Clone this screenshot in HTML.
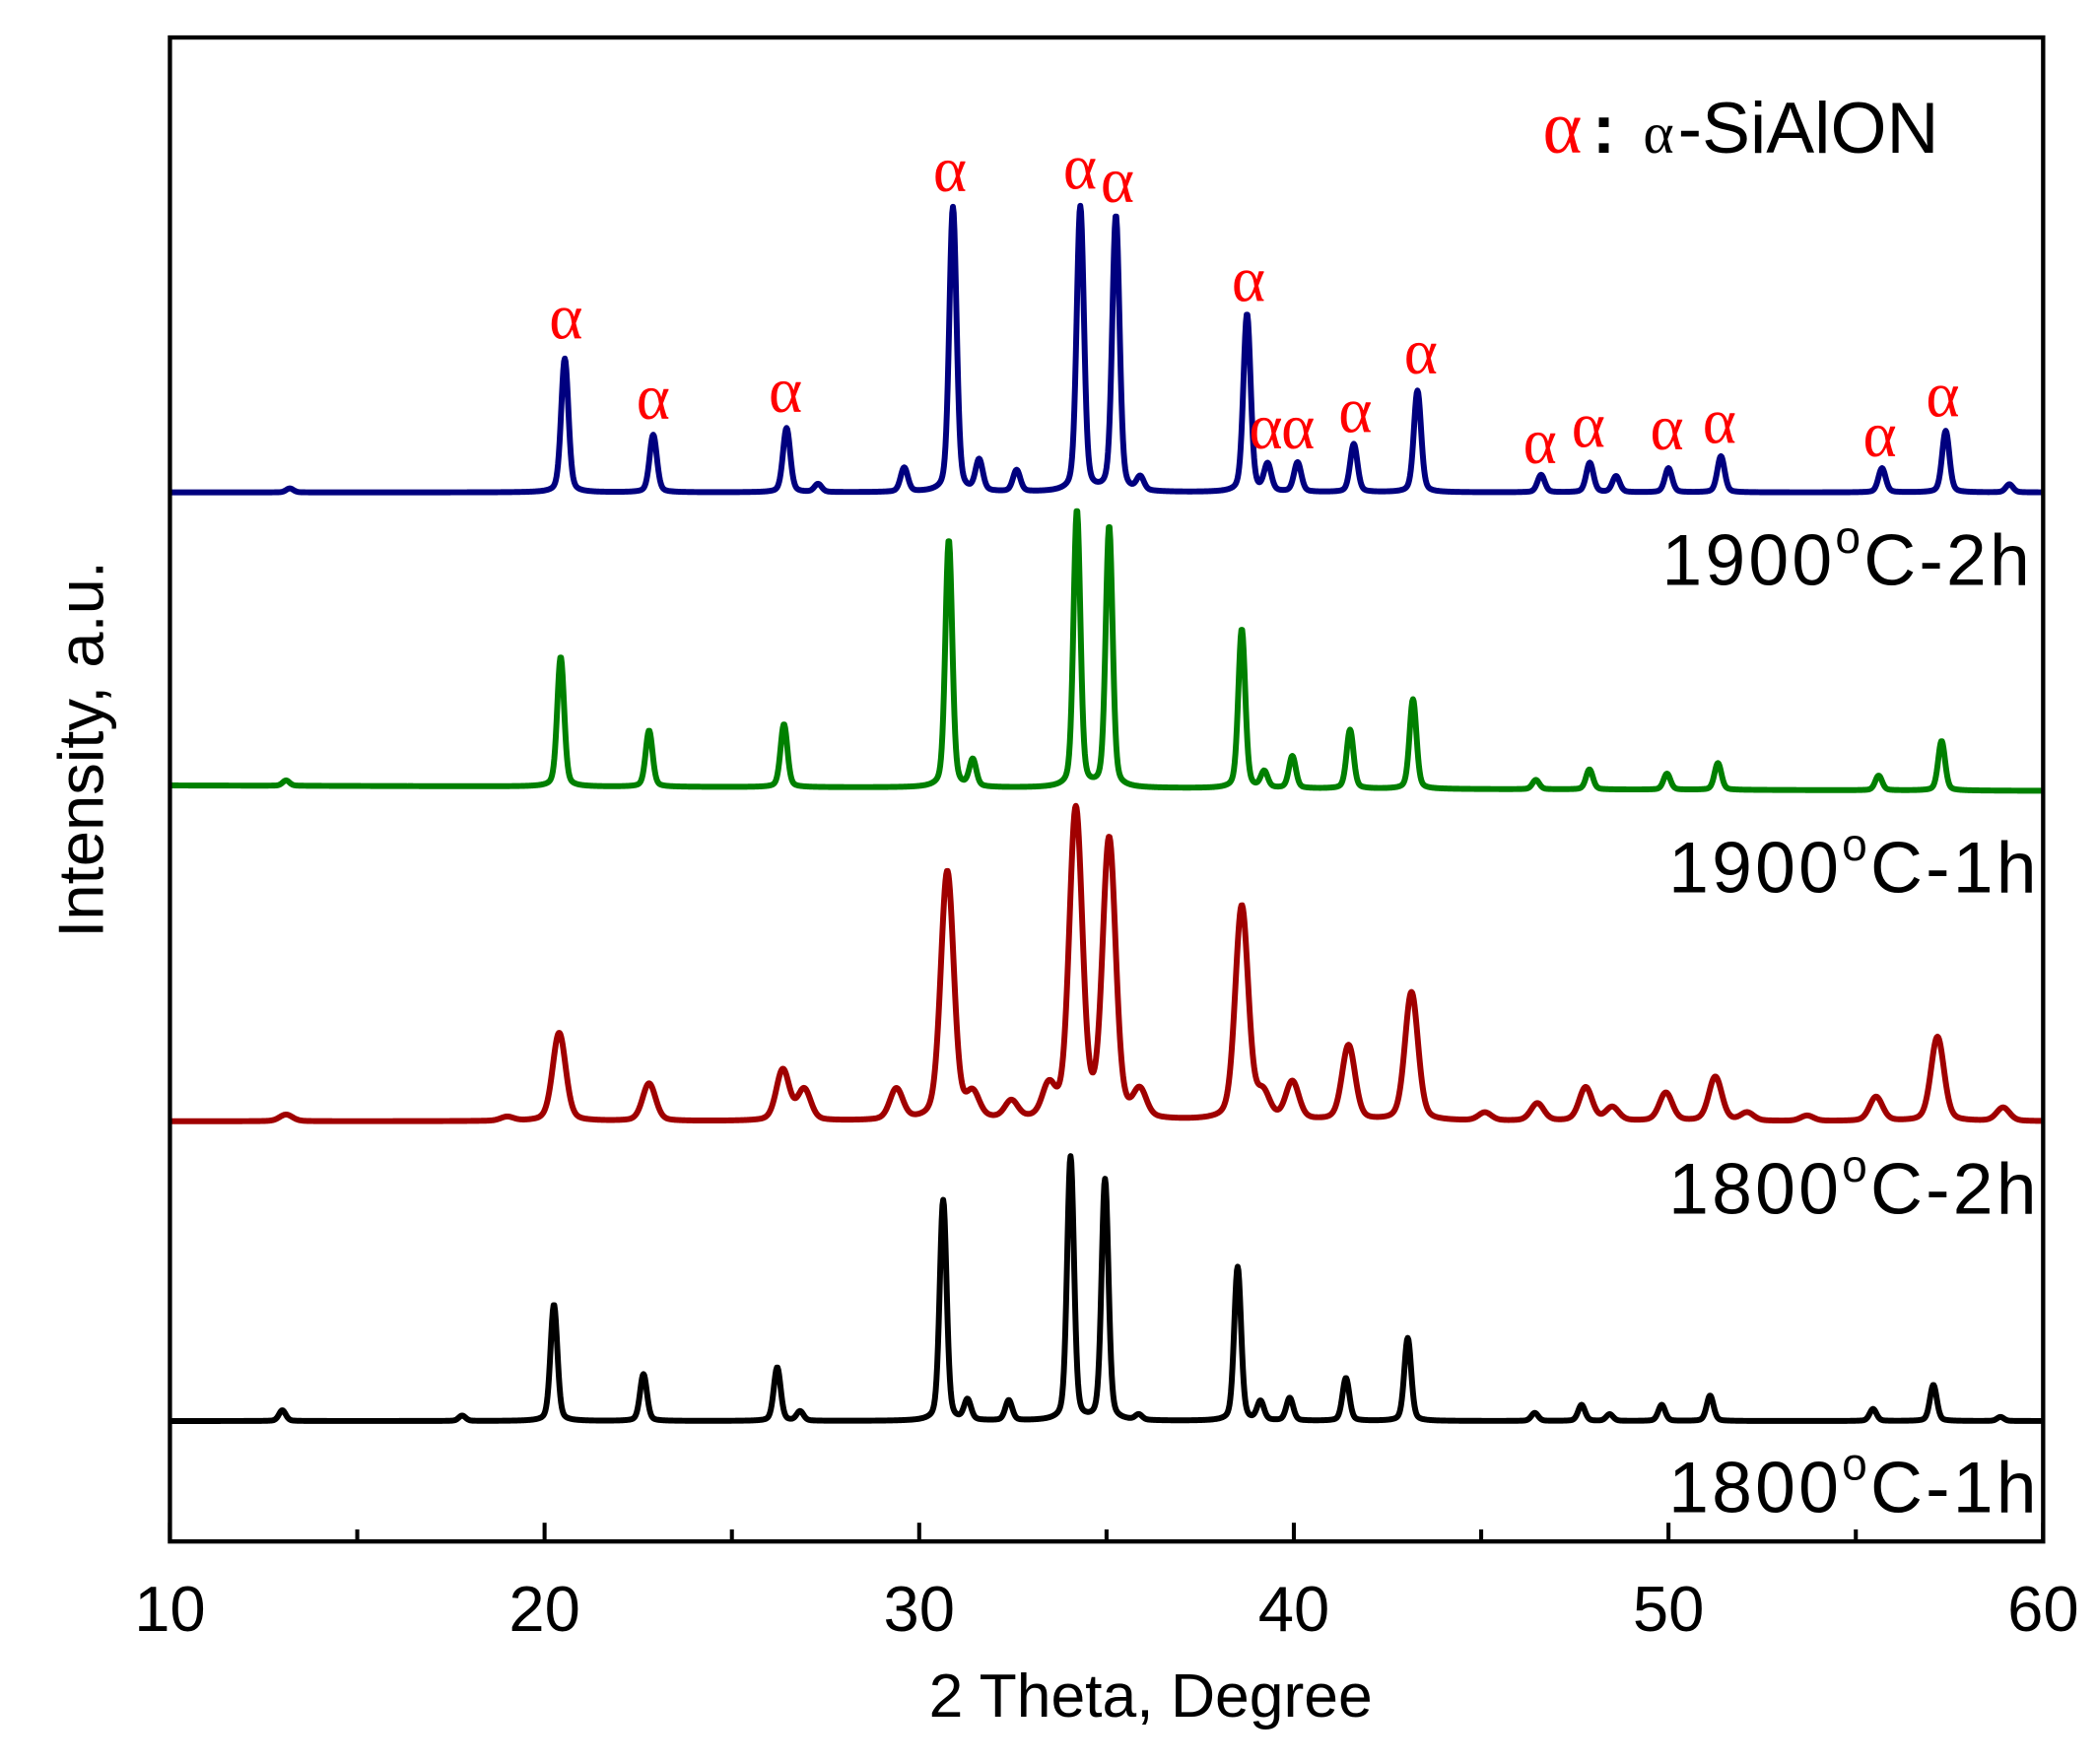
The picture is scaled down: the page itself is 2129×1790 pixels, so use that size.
<!DOCTYPE html>
<html><head><meta charset="utf-8"><style>html,body{margin:0;padding:0;background:#fff}svg{display:block}</style></head>
<body>
<svg id="chart" xmlns="http://www.w3.org/2000/svg" width="2129" height="1790" viewBox="0 0 1568 1318.3">
<rect x="0" y="0" width="1568" height="1318.3" fill="#fff"/>
<g id="series"></g>
<g id="axes"></g>
<g id="labels"></g>
<g>
<text x="1153" y="114" font-family="Liberation Serif, serif" font-size="56" fill="#ff0000">α</text>
<text x="1190" y="114" font-family="Liberation Sans, sans-serif" font-size="52" font-weight="bold" fill="#000">:</text>
<text x="1228" y="114" font-family="Liberation Serif, serif" font-size="44" fill="#000">α</text>
<text x="1254" y="114" font-family="Liberation Sans, sans-serif" font-size="54" fill="#000">-SiAlON</text>
</g>
<text x="860" y="1283" text-anchor="middle" font-family="Liberation Sans, sans-serif" font-size="46" fill="#000">2 Theta, Degree</text>
<text transform="translate(77,560) rotate(-90)" text-anchor="middle" font-family="Liberation Sans, sans-serif" font-size="48" fill="#000">Intensity, a.u.</text>
</svg>
<script>
const xTicks=[10,20,30,40,50,60];
const minorTicks=[15,25,35,45,55];
const seriesNames=["1900°C-2h","1900°C-1h","1800°C-2h","1800°C-1h"];
const seriesColors=["#00007f","#008000","#a00000","#000000"];
const baselines=[368,587,838,1062];
const baseSlope=[0,4,0,0];
const widths=[0.095,0.09,0.17,0.09];
const bluePos=[13.2,20.54,22.9,26.46,27.3,29.6,30.9,31.6,32.6,34.3,35.25,35.9,38.75,39.3,40.1,41.6,43.3,46.6,47.9,48.6,50.0,51.4,55.7,57.4,59.1];
const blueInt=[3,100,43,48,6,18,213,23,16,213,206,10,133,20,22,36,76,13,22,12,18,27,18,46,6];
const greenPos=[13.1,20.43,22.79,26.39,30.79,31.43,34.21,35.07,38.61,39.21,39.96,41.5,43.18,46.46,47.89,49.96,51.32,55.61,57.29];
const greenInt=[4,97,42,47,185,20,207,195,119,12,24,44,67,7,15,12,20,11,37];
const redPos=[13.1,19.0,20.39,22.79,26.36,26.93,29.39,30.75,31.43,32.46,33.46,34.18,35.07,35.89,38.61,39.18,39.96,41.46,43.14,45.1,46.5,47.79,48.5,49.93,51.25,52.1,53.7,55.54,57.18,58.93];
const redInt=[5,3,66,28,38,23,23,186,18,13,23,231,208,20,160,18,28,56,96,6,13,25,10,21,33,6,4,18,63,10];
const blackPos=[13.0,17.8,20.25,22.64,26.21,26.82,30.64,31.29,32.39,34.04,34.96,35.86,38.5,39.11,39.89,41.39,43.04,46.43,47.68,48.43,49.82,51.11,55.46,57.07,58.86];
const blackInt=[8,4,87,35,40,7,165,15,15,197,180,4,115,14,17,32,62,6,12,5,12,19,9,27,3];
const alphaPos=[20.57,22.9,26.43,30.82,34.29,35.29,38.79,39.25,40.11,41.64,43.39,46.57,47.86,49.96,51.36,55.64,57.32];
const alphaY=[240,300,295,130,128,138,212,322,322,310,266,333,321,323,318,328,298];
const X0=127,X1=1527,Y0=28,Y1=1152;
function sx(d){return X0+(d-10)/50*(X1-X0);}
function sy(base,v){return base-v;}
const NS="http://www.w3.org/2000/svg";
const sg=document.getElementById('series');
const allPos=[bluePos,greenPos,redPos,blackPos], allInt=[blueInt,greenInt,redInt,blackInt];
const names=['blue','green','red','black'];
for(let s=0;s<4;s++){
  let d='';
  const w=widths[s];
  for(let t=10;t<=60.0001;t+=0.02){
    let v=0;
    for(let k=0;k<allPos[s].length;k++){
      const u=(t-allPos[s][k])/w;
      v+=allInt[s][k]*(0.75*Math.exp(-0.5*u*u)+0.25/(1+u*u/2));
    }
    const base=baselines[s]+baseSlope[s]*(t-10)/50;
    d+=(d?'L':'M')+sx(t).toFixed(2)+','+sy(base,v).toFixed(2);
  }
  const p=document.createElementNS(NS,'path');
  p.setAttribute('d',d);p.setAttribute('fill','none');p.setAttribute('stroke',seriesColors[s]);
  p.setAttribute('stroke-width','4.4');p.setAttribute('stroke-linejoin','round');
  
  
  sg.appendChild(p);
}
const ag=document.getElementById('axes');
const fr=document.createElementNS(NS,'rect');
fr.setAttribute('x',X0);fr.setAttribute('y',Y0);fr.setAttribute('width',X1-X0);fr.setAttribute('height',Y1-Y0);
fr.setAttribute('fill','none');fr.setAttribute('stroke','#000');fr.setAttribute('stroke-width','3.2');


ag.appendChild(fr);
xTicks.forEach(v=>{
  const l=document.createElementNS(NS,'line');
  l.setAttribute('x1',sx(v));l.setAttribute('x2',sx(v));l.setAttribute('y1',Y1);l.setAttribute('y2',Y1-14);
  l.setAttribute('stroke','#000');l.setAttribute('stroke-width','3');
  
  
  ag.appendChild(l);
  const t=document.createElementNS(NS,'text');
  t.setAttribute('x',sx(v));t.setAttribute('y',1219);t.setAttribute('text-anchor','middle');
  t.setAttribute('font-family','Liberation Sans, sans-serif');t.setAttribute('font-size','48');
  t.textContent=v;
  
  
  ag.appendChild(t);
});
minorTicks.forEach(v=>{
  const l=document.createElementNS(NS,'line');
  l.setAttribute('x1',sx(v));l.setAttribute('x2',sx(v));l.setAttribute('y1',Y1);l.setAttribute('y2',Y1-9);
  l.setAttribute('stroke','#000');l.setAttribute('stroke-width','3');
  
  
  ag.appendChild(l);
});
const lg=document.getElementById('labels');
alphaPos.forEach((p,i)=>{
  const t=document.createElementNS(NS,'text');
  t.setAttribute('x',sx(p));t.setAttribute('y',alphaY[i]+13);t.setAttribute('text-anchor','middle');
  t.setAttribute('font-family','Liberation Serif, serif');t.setAttribute('font-size','48');t.setAttribute('fill','#ff0000');
  t.textContent='α';
  
  
  lg.appendChild(t);
});
const labY=[437,667,907,1130], labR=[1517,1522,1522,1522];
seriesNames.forEach((n,i)=>{
  const t=document.createElementNS(NS,'text');
  t.setAttribute('x',labR[i]);t.setAttribute('y',labY[i]);t.setAttribute('text-anchor','end');
  t.setAttribute('font-family','Liberation Sans, sans-serif');t.setAttribute('font-size','54');t.setAttribute('fill','#000');
  t.setAttribute('textLength','275');
  const parts=n.split('°');
  const a=document.createElementNS(NS,'tspan');a.textContent=parts[0];
  const b=document.createElementNS(NS,'tspan');b.textContent='o';b.setAttribute('font-size','34');b.setAttribute('dy','-24');
  const c=document.createElementNS(NS,'tspan');c.textContent=parts[1];c.setAttribute('dy','24');
  t.appendChild(a);t.appendChild(b);t.appendChild(c);
  
  
  lg.appendChild(t);
});
</script>
</body></html>
